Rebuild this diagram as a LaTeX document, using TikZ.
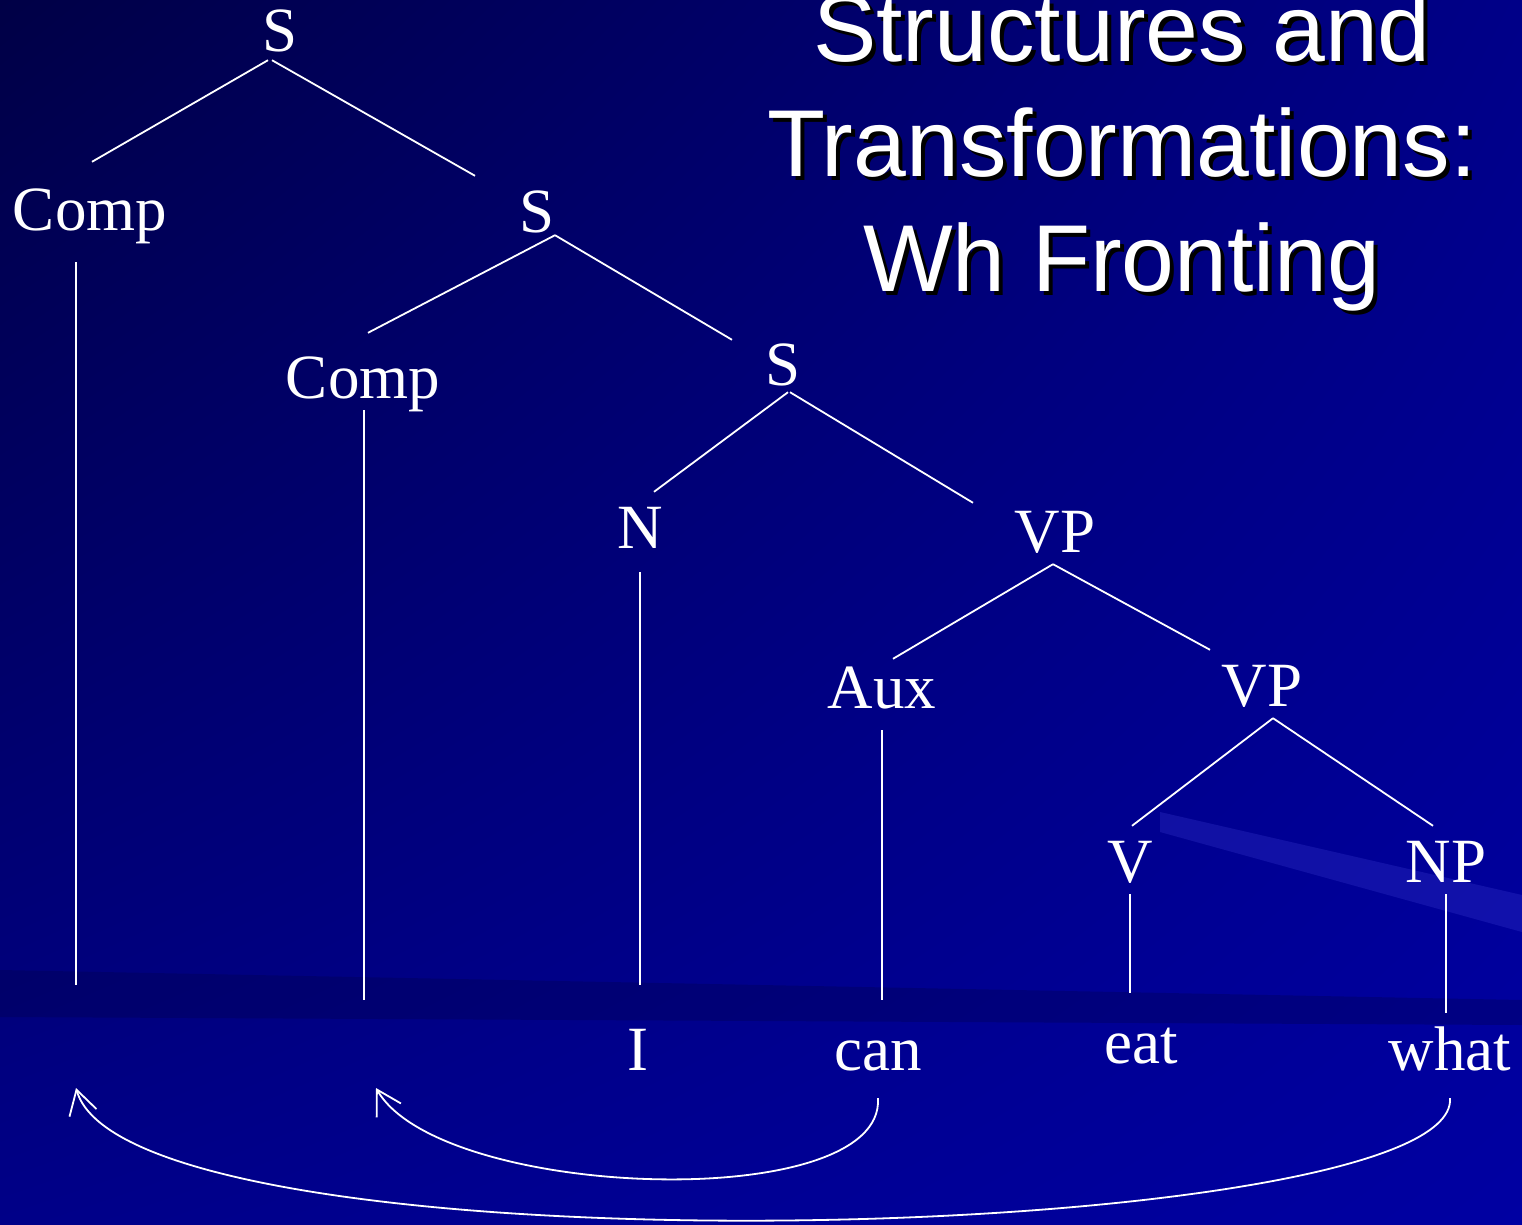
\documentclass[tikz,border=0pt]{standalone}
\usepackage{fontspec}
\setmainfont{Liberation Serif}
\newfontfamily\titelfont{Liberation Sans}
\usetikzlibrary{arrows.meta,shadings}
\definecolor{nachtd}{HTML}{000046}
\definecolor{nachtm}{HTML}{000088}
\definecolor{nachtl}{HTML}{0000A2}
\definecolor{streif}{HTML}{3A3AD0}
\tikzset{
  kat/.style={anchor=base,white,font=\fontsize{63}{70}\selectfont,text height=44pt,text depth=0pt,inner xsep=0pt,inner ysep=12pt},
  blatt/.style={kat,inner ysep=28pt,text height=42pt},
  ast/.style={white,line width=1.8pt},
  pfeil/.style={ast,-{Straight Barb[length=24pt,width=28pt]}},
  titel/.style={align=center,inner sep=0pt,font=\titelfont\fontsize{95}{115}\selectfont},
}

\begin{document}
\begin{tikzpicture}[x=1pt,y=-1pt]
  \useasboundingbox (0,0) rectangle (1522,1225);
  \shade[upper left=nachtd,upper right=nachtm,lower left=nachtm,lower right=nachtl] (0,0) rectangle (1522,1225);
  \fill[streif,opacity=0.3] (1160,812) -- (1522,895) -- (1522,932) -- (1160,832) -- cycle;
  \fill[nachtd,opacity=0.3] (0,970) -- (1522,1000) -- (1522,1025) -- (0,1017) -- cycle;

  \node[titel,black] (titelschatten) at (1126,156) {Structures and\\Transformations:\\Wh Fronting};
  \node[titel,white] (titel) at (1122,152) {Structures and\\Transformations:\\Wh Fronting};

  \node[kat] (s1) at (280,52) {S};
  \node[kat] (comp1) at (90,230) {Comp};
  \node[kat] (s2) at (537,232) {S};
  \node[kat] (comp2) at (363,398) {Comp};
  \node[kat] (s3) at (783,385) {S};
  \node[kat] (n) at (640,548) {N};
  \node[kat] (vp1) at (1055,552) {VP};
  \node[kat] (aux) at (882,708) {Aux};
  \node[kat] (vp2) at (1262,706) {VP};
  \node[kat] (v) at (1130,882) {V};
  \node[kat] (np) at (1446,882) {NP};
  \node[blatt] (i) at (638,1070) {I};
  \node[blatt] (can) at (878,1070) {can};
  \node[blatt] (eat) at (1141,1063) {eat};
  \node[blatt] (what) at (1450,1070) {what};
  \coordinate (leer1) at (76,985);
  \coordinate (leer2) at (364,1000);
  \coordinate (ziel1) at (76,1088);
  \coordinate (ziel2) at (376,1088);

  \draw[ast] ([xshift=-12pt,yshift=4pt]s1.south) -- ([xshift=2pt,yshift=12pt]comp1.north);
  \draw[ast] ([xshift=-8pt,yshift=4pt]s1.south) -- ([xshift=-62pt]s2.north);
  \draw[ast] ([xshift=18pt,yshift=9pt]s2.south) -- ([xshift=5pt,yshift=9pt]comp2.north);
  \draw[ast] ([xshift=18pt,yshift=9pt]s2.south) -- ([xshift=-51pt,yshift=-11pt]s3.north);
  \draw[ast] ([xshift=5pt,yshift=5pt]s3.south) -- ([xshift=14pt]n.north);
  \draw[ast] ([xshift=7pt,yshift=5pt]s3.south) -- ([xshift=-82pt,yshift=-7pt]vp1.north);
  \draw[ast] ([xshift=-2pt]vp1.south) -- ([xshift=11pt,yshift=-7pt]aux.north);
  \draw[ast] ([xshift=-2pt]vp1.south) -- ([xshift=-52pt]vp2.north);
  \draw[ast] ([xshift=11pt]vp2.south) -- ([xshift=2pt]v.north);
  \draw[ast] ([xshift=11pt]vp2.south) -- ([xshift=-13pt]np.north);
  \draw[ast,shorten <=20pt] (leer1 |- comp1.south) -- (leer1);
  \draw[ast] (leer2 |- comp2.south) -- (leer2);
  \draw[ast,shorten <=12pt,shorten >=15pt] (n.south) -- (n.south |- i.north);
  \draw[ast,shorten <=10pt] (aux.south) -- (aux.south |- can.north);
  \draw[ast] (v.south) -- (v.south |- eat.north);
  \draw[ast,shorten >=-13pt] (np.south) -- (np.south |- what.north);

  \draw[pfeil] (can.south) .. controls (885,1215) and (440,1200) .. (ziel2);
  \draw[pfeil] (what.south) .. controls (1460,1245) and (130,1280) .. (ziel1);
\end{tikzpicture}
\end{document}
